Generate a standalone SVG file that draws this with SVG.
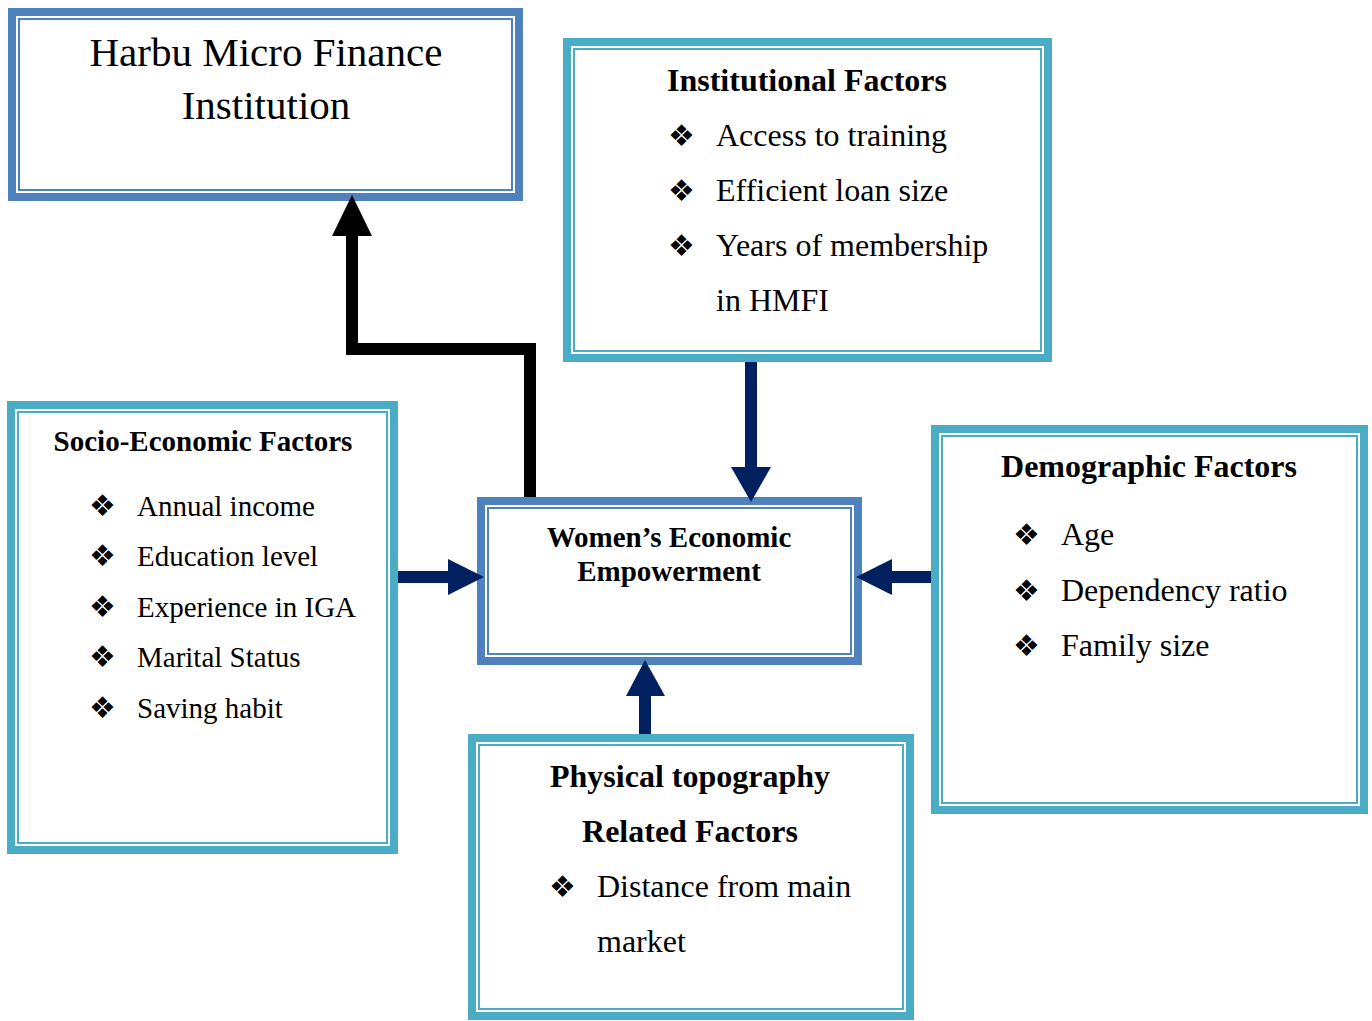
<svg xmlns="http://www.w3.org/2000/svg" width="1372" height="1021" viewBox="0 0 1372 1021">
<style>
  .teal { fill: #ffffff; stroke: #4BACC6; stroke-width: 8; }
  .tealin { fill: none; stroke: #4BACC6; stroke-width: 2; }
  .blue { fill: #ffffff; stroke: #4F81BD; stroke-width: 8; }
  .bluein { fill: none; stroke: #4F81BD; stroke-width: 2; }
  text { font-family: "Liberation Serif", "Times New Roman", serif; fill: #000000; }
  .h { font-weight: bold; text-anchor: middle; }
  .b { font-family: "DejaVu Sans", sans-serif; font-size: 30px; }
  .navy { fill: #002060; }
</style>
<rect width="1372" height="1021" fill="#ffffff"/>

<g id="harbu">
  <rect class="blue" x="12" y="12" width="507" height="185"/>
  <rect class="bluein" x="19" y="19" width="493" height="171"/>
  <text x="266" y="66" font-size="41" text-anchor="middle">Harbu Micro Finance</text>
  <text x="266" y="119" font-size="41" text-anchor="middle">Institution</text>
</g>

<g id="institutional">
  <rect class="teal" x="567" y="42" width="481" height="316"/>
  <rect class="tealin" x="574" y="49" width="467" height="302"/>
  <text class="h" x="807" y="91" font-size="32">Institutional Factors</text>
  <text class="b" x="668" y="146">❖</text>
  <text x="716" y="146" font-size="32">Access to training</text>
  <text class="b" x="668" y="201">❖</text>
  <text x="716" y="201" font-size="32">Efficient loan size</text>
  <text class="b" x="668" y="256">❖</text>
  <text x="716" y="256" font-size="32">Years of membership</text>
  <text x="716" y="311" font-size="32">in HMFI</text>
</g>

<g id="socio">
  <rect class="teal" x="11" y="405" width="383" height="445"/>
  <rect class="tealin" x="18" y="412" width="369" height="431"/>
  <text class="h" x="203" y="451" font-size="29">Socio-Economic Factors</text>
  <text class="b" x="89" y="516">❖</text>
  <text x="137" y="516" font-size="29">Annual income</text>
  <text class="b" x="89" y="566">❖</text>
  <text x="137" y="566" font-size="29">Education level</text>
  <text class="b" x="89" y="617">❖</text>
  <text x="137" y="617" font-size="29">Experience in IGA</text>
  <text class="b" x="89" y="667">❖</text>
  <text x="137" y="667" font-size="29">Marital Status</text>
  <text class="b" x="89" y="718">❖</text>
  <text x="137" y="718" font-size="29">Saving habit</text>
</g>

<g id="women">
  <rect class="blue" x="481" y="501" width="377" height="160"/>
  <rect class="bluein" x="488" y="508" width="363" height="146"/>
  <text class="h" x="669" y="547" font-size="29">Women’s Economic</text>
  <text class="h" x="669" y="581" font-size="29">Empowerment</text>
</g>

<g id="demographic">
  <rect class="teal" x="935" y="429" width="429" height="381"/>
  <rect class="tealin" x="942" y="436" width="415" height="367"/>
  <text class="h" x="1149" y="477" font-size="32">Demographic Factors</text>
  <text class="b" x="1013" y="545">❖</text>
  <text x="1061" y="545" font-size="32">Age</text>
  <text class="b" x="1013" y="601">❖</text>
  <text x="1061" y="601" font-size="32">Dependency ratio</text>
  <text class="b" x="1013" y="656">❖</text>
  <text x="1061" y="656" font-size="32">Family size</text>
</g>

<g id="physical">
  <rect class="teal" x="472" y="738" width="438" height="278"/>
  <rect class="tealin" x="479" y="745" width="424" height="264"/>
  <text class="h" x="690" y="787" font-size="32">Physical topography</text>
  <text class="h" x="690" y="842" font-size="32">Related Factors</text>
  <text class="b" x="549" y="897">❖</text>
  <text x="597" y="897" font-size="32">Distance from main</text>
  <text x="597" y="952" font-size="32">market</text>
</g>

<g id="connectors">
  <polyline points="530,497 530,349 352,349 352,234" fill="none" stroke="#000000" stroke-width="12" stroke-linejoin="miter"/>
  <polygon points="352,195 332,236 372,236" fill="#000000"/>
  <rect class="navy" x="745" y="362" width="12" height="107"/>
  <polygon class="navy" points="731,467 771,467 751,502"/>
  <rect class="navy" x="398" y="571" width="52" height="12"/>
  <polygon class="navy" points="448,559 448,595 484,577"/>
  <rect class="navy" x="890" y="571" width="41" height="12"/>
  <polygon class="navy" points="892,559 892,595 856,577"/>
  <rect class="navy" x="639" y="694" width="12" height="40"/>
  <polygon class="navy" points="626,696 665,696 645,660"/>
</g>
</svg>
